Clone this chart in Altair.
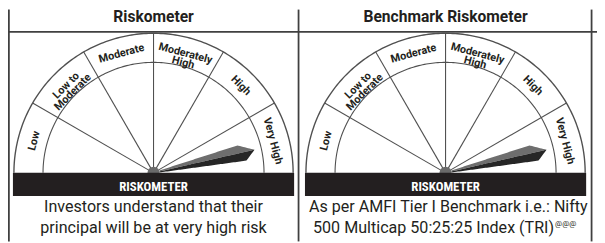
import numpy as np
import pandas as pd
import altair as alt

# ---------------- content ----------------
titles = ["Riskometer", "Benchmark Riskometer"]
levels = ["Low", "Low to\nModerate", "Moderate", "Moderately\nHigh", "High", "Very High"]
panel_risk = ["Very High", "Very High"]
bar_label = "RISKOMETER"
caption_line1 = ["Investors understand that their", "As per AMFI Tier I Benchmark i.e.: Nifty"]
caption_line2 = ["principal will be at very high risk", "500 Multicap 50:25:25 Index (TRI)"]
superscripts = ["", "@@@"]

# ---------------- layout ----------------
FONT = "Roboto, Liberation Sans, DejaVu Sans, sans-serif"
FONT_C = "Roboto Condensed, Liberation Sans Narrow, DejaVu Sans Condensed, sans-serif"
centers_x = [155.5, 451.5]
CY = 173.5
R_OUT = 141.5
R_IN = 112.0
R_LAB = 125.0
BAR_TOP, BAR_BOT = 173.5, 197.0
LINE = "#505050"
INK = "#231f20"

xs = alt.Scale(domain=[8, 605], nice=False, zero=False)
ys = alt.Scale(domain=[8, 243], nice=False, zero=False, reverse=True)


def X(f):
    return alt.X(f, type="quantitative", scale=xs, axis=None)


def Y(f):
    return alt.Y(f, type="quantitative", scale=ys, axis=None, stack=None)


# table borders
borders = pd.DataFrame([
    dict(x=8, y=30.5, x2=605, y2=30.5),
    dict(x=8.9, y=8, x2=8.9, y2=243),
    dict(x=302.5, y=8, x2=302.5, y2=243),
    dict(x=599.5, y=8, x2=599.5, y2=243),
])
border_layer = alt.Chart(borders).mark_rule(color="#404040", strokeWidth=1.8).encode(
    x=X("x"), y=Y("y"), x2="x2", y2="y2")

# headers
hdr = pd.DataFrame(dict(x=centers_x, y=[21, 21], text=titles))
hdr_layer = alt.Chart(hdr).mark_text(font=FONT, fontSize=15.8, fontWeight="bold", color=INK,
                                     baseline="alphabetic", align="center").encode(
    x=X("x"), y=Y("y"), text="text:N")

# arcs
arc_rows = []
ang = np.linspace(0, np.pi, 181)
for p, cx in enumerate(centers_x):
    for name, r in (("out", R_OUT), ("in", R_IN)):
        for k, a in enumerate(ang):
            arc_rows.append(dict(g=f"{p}{name}", o=k, x=cx + r * np.cos(a), y=CY - r * np.sin(a),
                                 w=1.4 if name == "out" else 1.1))
arcs = pd.DataFrame(arc_rows)
arc_layer = alt.Chart(arcs).mark_line(color=LINE).encode(
    x=X("x"), y=Y("y"), detail="g:N", order="o:Q",
    strokeWidth=alt.StrokeWidth("w:Q", scale=None))

# radial dividers
rad_rows = []
for cx in centers_x:
    for i in range(1, len(levels)):
        a = np.pi - i * np.pi / len(levels)
        rad_rows.append(dict(x=cx, y=CY, x2=cx + R_OUT * np.cos(a), y2=CY - R_OUT * np.sin(a)))
rad_layer = alt.Chart(pd.DataFrame(rad_rows)).mark_rule(color=LINE, strokeWidth=1.1).encode(
    x=X("x"), y=Y("y"), x2="x2", y2="y2")

# segment labels
lab_rows = []
for cx in centers_x:
    for i, lab in enumerate(levels):
        a = np.pi - (i + 0.5) * np.pi / len(levels)
        lab_rows.append(dict(x=cx + R_LAB * np.cos(a), y=CY - R_LAB * np.sin(a), text=lab,
                             rot=(90 - np.degrees(a)) % 360))
lab_layer = alt.Chart(pd.DataFrame(lab_rows)).mark_text(
    font=FONT, fontSize=11, fontWeight="bold", color=INK, lineBreak="\n",
    lineHeight=9.5, baseline="middle", align="center").encode(
    x=X("x"), y=Y("y"), text="text:N", angle=alt.Angle("rot:Q", scale=None))

# needle (shape in needle frame: along, perpendicular)
up_edge = [(6, 1.0), (89.0, 8.1), (105, 0)]
lo_edge = [(6, -1.0), (94.6, -8.9), (105, 0)]
mid_edge = [(6, 0.0), (105, 0)]


def to_xy(pts, cx, phi):
    out = []
    for s, t in pts:
        out.append((cx + s * np.cos(phi) - t * np.sin(phi), CY - (s * np.sin(phi) + t * np.cos(phi))))
    return np.array(out)


needle_layers = []
for p, cx in enumerate(centers_x):
    idx = levels.index(panel_risk[p])
    phi = np.pi - (idx + 0.5) * np.pi / len(levels) - np.radians(2.1)
    U, L, M = to_xy(up_edge, cx, phi), to_xy(lo_edge, cx, phi), to_xy(mid_edge, cx, phi)
    for col, E in (("#6e6e6e", U), ("#262626", L)):
        x0 = max(E[0, 0], M[0, 0])
        x1 = min(E[-1, 0], M[-1, 0])
        xx = np.unique(np.concatenate([np.linspace(x0, x1, 60), E[1:-1, 0]]))
        xx = xx[(xx >= x0) & (xx <= x1)]
        ye = np.interp(xx, E[:, 0], E[:, 1])
        ym = np.interp(xx, M[:, 0], M[:, 1])
        df = pd.DataFrame(dict(x=[float(v) for v in xx], ya=[float(v) for v in ye],
                               yb=[float(v) for v in ym]))
        needle_layers.append(
            alt.Chart(df).mark_area(color=col, opacity=1, interpolate="linear").encode(
                x=X("x"), y=Y("ya"), y2=alt.Y2("yb")))

# hub
hub = pd.DataFrame(dict(x=centers_x, y=[CY, CY]))
hub_layer = alt.Chart(hub).mark_point(shape="circle", filled=True, size=150, color="#6a6a6a",
                                      opacity=1).encode(x=X("x"), y=Y("y"))

# black bar
bar = pd.DataFrame(dict(x=[c - R_OUT - 1 for c in centers_x], x2=[c + R_OUT + 1 for c in centers_x],
                        y=[BAR_TOP] * 2, y2=[BAR_BOT] * 2))
bar_layer = alt.Chart(bar).mark_rect(color=INK).encode(x=X("x"), x2="x2", y=Y("y"), y2="y2")

bar_txt = pd.DataFrame(dict(x=centers_x, y=[191.5, 191.5], text=[bar_label] * 2))
bar_txt_layer = alt.Chart(bar_txt).mark_text(font=FONT_C, fontSize=13, fontWeight="bold", color="white",
                                             baseline="alphabetic", align="center").encode(
    x=X("x"), y=Y("y"), text="text:N")

# captions
CAP = 16.3
cap = pd.DataFrame([
    dict(x=155.5, y=213.5, text=caption_line1[0]),
    dict(x=155.5, y=234, text=caption_line2[0]),
])
cap_c = alt.Chart(cap).mark_text(font=FONT, fontSize=CAP, color=INK,
                                 baseline="alphabetic", align="center").encode(
    x=X("x"), y=Y("y"), text="text:N")
cap_l = alt.Chart(pd.DataFrame([dict(x=313, y=213.5, text=caption_line1[1])])).mark_text(
    font=FONT, fontSize=CAP, color=INK, baseline="alphabetic", align="left").encode(
    x=X("x"), y=Y("y"), text="text:N")
cap_r = alt.Chart(pd.DataFrame([dict(x=561.5, y=234, text=caption_line2[1])])).mark_text(
    font=FONT, fontSize=CAP, color=INK, baseline="alphabetic", align="right").encode(
    x=X("x"), y=Y("y"), text="text:N")
sup = alt.Chart(pd.DataFrame([dict(x=562.5, y=227.5, text=superscripts[1])])).mark_text(
    font=FONT, fontSize=8, color=INK, baseline="alphabetic", align="left").encode(
    x=X("x"), y=Y("y"), text="text:N")

chart = alt.layer(
    arc_layer, rad_layer, lab_layer, *needle_layers, hub_layer, bar_layer, bar_txt_layer,
    hdr_layer, cap_c, cap_l, cap_r, sup, border_layer
).properties(width=597, height=235, padding=0, autosize="none", background="white"
).configure_view(stroke=None)

chart.save("out.html", embed_options={"renderer": "svg", "actions": False})
